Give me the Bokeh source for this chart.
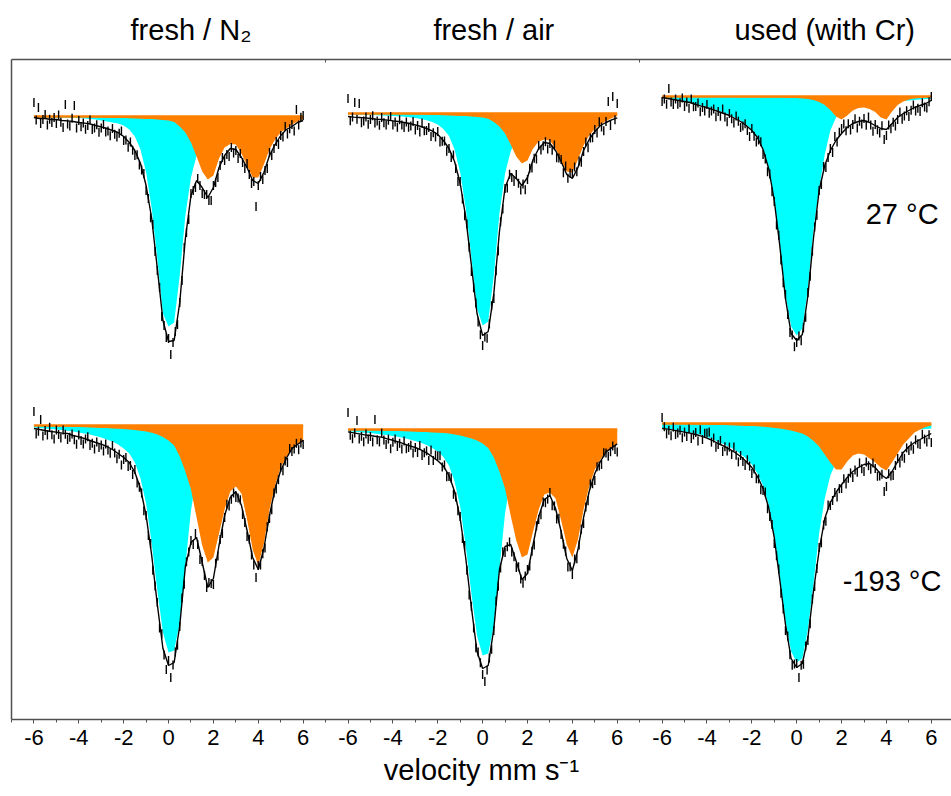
import numpy as np
from bokeh.plotting import figure
from bokeh.models import Range1d, LinearAxis, FixedTicker, Label
from bokeh.embed import file_html
from bokeh.resources import INLINE

# ---------------- data ----------------
# velocity grid (mm/s) of the fitted curves
V_FIT = [-6.0, -5.75, -5.5, -5.25, -5.0, -4.75, -4.5, -4.25, -4.0, -3.75, -3.5, -3.25,
         -3.0, -2.75, -2.5, -2.25, -2.0, -1.75, -1.5, -1.25, -1.0, -0.75, -0.5, -0.25,
         0.0, 0.25, 0.5, 0.75, 1.0, 1.25, 1.5, 1.75, 2.0, 2.25, 2.5, 2.75, 3.0, 3.25,
         3.5, 3.75, 4.0, 4.25, 4.5, 4.75, 5.0, 5.25, 5.5, 5.75, 6.0]
# velocity grid (mm/s) of the measured points
V_DATA = [-6.0, -5.9, -5.8, -5.7, -5.6, -5.5, -5.4, -5.3, -5.2, -5.1,
          -5.0, -4.9, -4.8, -4.7, -4.6, -4.5, -4.4, -4.3, -4.2, -4.1,
          -4.0, -3.9, -3.8, -3.7, -3.6, -3.5, -3.4, -3.3, -3.2, -3.1,
          -3.0, -2.9, -2.8, -2.7, -2.6, -2.5, -2.4, -2.3, -2.2, -2.1,
          -2.0, -1.9, -1.8, -1.7, -1.6, -1.5, -1.4, -1.3, -1.2, -1.1,
          -1.0, -0.9, -0.8, -0.7, -0.6, -0.5, -0.4, -0.3, -0.2, -0.1,
          0.0, 0.1, 0.2, 0.3, 0.4, 0.5, 0.6, 0.7, 0.8, 0.9,
          1.0, 1.1, 1.2, 1.3, 1.4, 1.5, 1.6, 1.7, 1.8, 1.9,
          2.0, 2.1, 2.2, 2.3, 2.4, 2.5, 2.6, 2.7, 2.8, 2.9,
          3.0, 3.1, 3.2, 3.3, 3.4, 3.5, 3.6, 3.7, 3.8, 3.9,
          4.0, 4.1, 4.2, 4.3, 4.4, 4.5, 4.6, 4.7, 4.8, 4.9,
          5.0, 5.1, 5.2, 5.3, 5.4, 5.5, 5.6, 5.7, 5.8, 5.9, 6.0]

COLUMN_TITLES = ["fresh / N\u2082", "fresh / air", "used (with Cr)"]
TITLE_VELOCITY = [1.0, 0.5, 1.25]
ROW_LABELS = ["27 \u00b0C", "-193 \u00b0C"]
PANEL_SHIFT = [0, 14, 28]              # velocity offset of each column on the shared axis
BASELINE = [[100.15, 100.3, 101.15],   # 27 C row: transmission baseline (%)
            [84.7, 84.5, 84.8]]        # -193 C row
TICK_VALUES = [-6, -4, -2, 0, 2, 4, 6]
MINOR_VALUES = [-7, -5, -3, -1, 1, 3, 5, 7]

# absorption (%) -- fresh / N2, 27 C
cyan_n2_27 = [0.03, 0.04, 0.05, 0.05, 0.06, 0.06, 0.07, 0.08, 0.08, 0.1, 0.12, 0.15, 0.2, 0.25,
              0.3, 0.35, 0.45, 0.65, 1.0, 1.65, 2.8, 4.6, 7.1, 9.85, 10.5, 10.3, 7.95, 4.95,
              3.05, 1.95, 1.2, 0.85, 0.6, 0.45, 0.35, 0.28, 0.2, 0.17, 0.15, 0.13, 0.1, 0.09,
              0.08, 0.07, 0.06, 0.06, 0.05, 0.05, 0.05]
orange_n2_27 = [0.0, 0.01, 0.01, 0.02, 0.02, 0.02, 0.03, 0.03, 0.03, 0.04, 0.04, 0.05, 0.05, 0.06,
                0.07, 0.07, 0.08, 0.09, 0.1, 0.11, 0.12, 0.13, 0.15, 0.17, 0.2, 0.27, 0.5, 0.8,
                1.3, 2.0, 2.75, 3.15, 2.95, 2.1, 1.55, 1.37, 1.4, 1.85, 2.45, 3.05, 3.05, 2.4,
                1.65, 1.15, 0.8, 0.6, 0.4, 0.25, 0.12]
fit_n2_27 = [0.05, 0.1, 0.1, 0.15, 0.15, 0.2, 0.22, 0.25, 0.3, 0.33, 0.37, 0.45, 0.52, 0.6, 0.7,
             0.8, 1.0, 1.3, 1.7, 2.35, 3.45, 5.1, 7.6, 10.2, 11.25, 11.2, 9.3, 6.1, 3.95, 3.2,
             3.55, 4.05, 3.55, 2.55, 1.95, 1.6, 1.65, 2.05, 2.55, 3.2, 3.35, 2.8, 1.95, 1.4,
             0.95, 0.65, 0.5, 0.3, 0.2]
data_n2_27 = [-0.7, 0.17, -0.45, 0.35, 0.15, -0.1, 0.42, 0.14, 0.3, 0.05,
              0.35, -0.08, 0.29, 0.55, -0.6, 0.37, 0.48, 0.09, -0.55, 0.58,
              0.2, 0.51, 0.32, 0.64, 0.45, 0.17, 0.65, 0.58, 0.41, 0.79,
              0.57, 0.4, 0.78, 0.72, 0.96, 0.6, 0.89, 1.03, 0.84, 0.72,
              1.2, 1.17, 1.54, 1.28, 1.69, 1.95, 1.91, 2.42, 2.67, 2.85,
              3.7, 4.1, 5.06, 5.4, 6.75, 7.7, 8.55, 10.0, 10.45, 11.05,
              11.1, 11.9, 11.3, 10.75, 10.4, 9.3, 8.2, 6.55, 5.8, 5.15,
              3.85, 3.7, 3.55, 3.1, 3.45, 3.85, 3.9, 3.9, 4.2, 4.2,
              3.45, 3.3, 3.05, 2.45, 2.05, 2.2, 1.9, 2.0, 1.55, 1.82,
              1.7, 2.1, 1.85, 2.3, 2.6, 2.35, 2.9, 3.35, 3.25, 4.5,
              3.45, 3.0, 3.15, 2.7, 2.6, 1.8, 1.95, 1.6, 1.25, 1.4,
              0.95, 1.03, 0.5, 0.87, 0.61, 0.4, 0.73, -0.35, 0.43, 0.04, -0.05]

# fresh / air, 27 C
cyan_air_27 = [0.04, 0.05, 0.06, 0.07, 0.08, 0.09, 0.1, 0.11, 0.12, 0.14, 0.16, 0.19, 0.23, 0.28,
               0.34, 0.42, 0.55, 0.78, 1.12, 1.8, 2.95, 4.75, 7.2, 9.75, 10.6, 10.4, 8.1, 5.0,
               3.0, 1.9, 1.2, 0.85, 0.62, 0.47, 0.37, 0.3, 0.24, 0.2, 0.17, 0.15, 0.13, 0.11,
               0.1, 0.09, 0.08, 0.07, 0.06, 0.06, 0.05]
orange_air_27 = [0.0, 0.01, 0.01, 0.01, 0.02, 0.02, 0.02, 0.03, 0.03, 0.03, 0.04, 0.04, 0.05, 0.05,
                 0.06, 0.07, 0.08, 0.09, 0.1, 0.11, 0.12, 0.13, 0.15, 0.17, 0.2, 0.26, 0.42, 0.65,
                 1.0, 1.55, 2.15, 2.5, 2.35, 1.75, 1.4, 1.3, 1.35, 1.75, 2.35, 2.9, 2.95, 2.3,
                 1.6, 1.1, 0.78, 0.55, 0.38, 0.24, 0.12]
fit_air_27 = [0.15, 0.18, 0.2, 0.22, 0.25, 0.28, 0.3, 0.33, 0.37, 0.4, 0.45, 0.5, 0.57, 0.65, 0.75,
              0.87, 1.05, 1.35, 1.75, 2.4, 3.5, 5.2, 7.6, 10.0, 11.1, 10.9, 9.0, 5.9, 3.7, 3.0,
              3.25, 3.6, 3.2, 2.3, 1.75, 1.45, 1.5, 1.85, 2.4, 3.05, 3.25, 2.7, 1.85, 1.3, 0.9,
              0.6, 0.45, 0.32, 0.22]
data_air_27 = [-0.75, 0.36, 0.17, -0.55, 0.29, -0.5, 0.46, 0.37, 0.18, 0.54,
               0.3, 0.11, 0.47, 0.38, 0.59, 0.2, 0.46, 0.57, 0.34, 0.15,
               0.57, 0.43, 0.69, 0.31, 0.58, 0.7, 0.42, 0.69, 0.62, 0.4,
               0.82, 0.6, 0.93, 0.47, 0.86, 0.85, 0.7, 1.15, 0.96, 1.18,
               0.9, 1.42, 1.39, 1.38, 1.89, 1.75, 2.2, 2.07, 2.75, 3.4,
               3.4, 4.28, 5.11, 5.53, 6.69, 7.9, 8.71, 9.47, 10.42, 11.06,
               11.6, 11.17, 11.24, 10.52, 9.61, 9.25, 7.86, 6.87, 5.41, 4.78,
               3.75, 3.72, 3.04, 3.2, 3.4, 3.05, 3.49, 3.83, 3.52, 3.81,
               3.3, 2.74, 2.73, 2.24, 2.27, 1.6, 1.83, 1.61, 1.41, 1.78,
               1.5, 1.84, 1.58, 2.21, 2.23, 2.3, 2.96, 2.62, 3.24, 2.97,
               3.0, 2.68, 2.91, 2.38, 2.44, 1.9, 1.43, 1.71, 1.22, 1.21,
               0.8, 0.98, 0.41, 0.67, 0.86, 0.4, -0.6, 0.6, -0.85, 0.31, -0.5]

# used (with Cr), 27 C
cyan_cr_27 = [0.03, 0.08, 0.13, 0.18, 0.22, 0.27, 0.37, 0.44, 0.5, 0.6, 0.7, 0.8, 0.9, 1.05, 1.2,
              1.4, 1.65, 2.0, 2.6, 3.55, 5.1, 7.4, 9.9, 11.5, 11.95, 11.6, 9.6, 6.6, 4.6, 2.9,
              1.7, 1.05, 0.75, 0.6, 0.5, 0.45, 0.4, 0.37, 0.35, 0.32, 0.3, 0.27, 0.25, 0.22,
              0.2, 0.18, 0.15, 0.13, 0.12]
orange_cr_27 = [0.0, 0.0, 0.01, 0.01, 0.01, 0.01, 0.02, 0.02, 0.02, 0.02, 0.03, 0.03, 0.03, 0.03,
                0.04, 0.04, 0.04, 0.04, 0.05, 0.05, 0.05, 0.05, 0.06, 0.07, 0.08, 0.1, 0.12, 0.18,
                0.27, 0.42, 0.68, 1.0, 1.15, 0.95, 0.7, 0.58, 0.55, 0.62, 0.78, 1.05, 1.15, 0.75,
                0.42, 0.25, 0.15, 0.1, 0.07, 0.05, 0.04]
fit_cr_27 = [0.05, 0.1, 0.15, 0.2, 0.25, 0.3, 0.4, 0.48, 0.55, 0.65, 0.75, 0.85, 0.95, 1.1, 1.25,
             1.45, 1.7, 2.05, 2.65, 3.6, 5.2, 7.5, 10.1, 11.85, 12.2, 11.9, 9.95, 7.05, 4.7, 3.45,
             2.7, 2.2, 1.85, 1.55, 1.35, 1.25, 1.2, 1.3, 1.45, 1.6, 1.65, 1.35, 1.05, 0.85, 0.7,
             0.55, 0.45, 0.35, 0.2]
data_cr_27 = [0.25, 0.12, 0.39, -0.4, 0.28, 0.4, 0.12, 0.39, 0.31, 0.08,
              0.5, 0.27, 0.59, 0.12, 0.51, 0.5, 0.33, 0.76, 0.55, 0.73,
              0.4, 0.84, 0.73, 0.62, 1.01, 0.75, 0.99, 0.63, 1.02, 1.26,
              0.85, 1.11, 1.32, 0.98, 1.24, 1.55, 1.48, 1.36, 1.7, 2.0,
              1.6, 1.99, 2.28, 2.17, 2.26, 2.9, 3.13, 3.76, 3.87, 4.76,
              5.25, 6.42, 6.94, 8.17, 9.31, 9.9, 10.9, 11.8, 11.92, 12.51,
              12.3, 11.98, 12.21, 11.57, 11.04, 9.8, 8.99, 7.73, 6.53, 5.94,
              4.7, 4.4, 3.5, 3.55, 3.05, 2.6, 2.8, 2.0, 2.28, 1.79,
              1.6, 1.38, 1.71, 1.36, 1.68, 1.4, 1.11, 1.57, 1.24, 1.37,
              1.1, 1.44, 1.03, 1.43, 1.74, 1.4, 1.66, 1.82, 1.46, 2.15,
              1.95, 1.43, 1.61, 1.29, 1.47, 1.15, 0.77, 1.14, 0.97, 0.71,
              1.0, 0.69, 0.43, 0.73, 0.59, 0.75, 0.31, 0.52, 0.57, 0.26, 0.0]

# fresh / N2, -193 C
cyan_n2_m193 = [0.1, 0.13, 0.15, 0.18, 0.2, 0.23, 0.26, 0.3, 0.35, 0.4, 0.45, 0.52, 0.6, 0.7, 0.8,
                0.95, 1.15, 1.4, 1.85, 2.65, 3.9, 5.9, 8.25, 10.35, 11.35, 11.25, 9.85, 7.0, 4.25,
                2.5, 1.65, 1.2, 0.95, 0.78, 0.65, 0.55, 0.45, 0.4, 0.35, 0.3, 0.25, 0.23, 0.2,
                0.18, 0.15, 0.14, 0.12, 0.11, 0.1]
orange_n2_m193 = [0.02, 0.03, 0.03, 0.04, 0.05, 0.05, 0.06, 0.07, 0.08, 0.09, 0.1, 0.11, 0.12, 0.13,
                  0.15, 0.16, 0.18, 0.2, 0.22, 0.26, 0.3, 0.36, 0.45, 0.58, 0.75, 1.0, 1.55, 2.3,
                  3.2, 4.6, 6.0, 6.85, 6.6, 5.4, 4.2, 3.3, 3.05, 3.4, 4.7, 6.2, 7.0, 5.9, 4.2, 3.0,
                  2.1, 1.6, 1.2, 0.95, 0.75]
fit_n2_m193 = [0.15, 0.2, 0.25, 0.3, 0.33, 0.38, 0.4, 0.5, 0.57, 0.65, 0.75, 0.85, 0.93, 1.05, 1.2,
               1.4, 1.6, 1.85, 2.35, 3.15, 4.5, 6.5, 8.95, 11.15, 12.0, 11.85, 10.0, 7.05, 5.85,
               5.6, 6.85, 8.1, 7.65, 6.0, 4.5, 3.6, 3.3, 4.0, 5.25, 6.6, 7.2, 6.15, 4.5, 3.15,
               2.25, 1.65, 1.15, 0.95, 0.75]
data_n2_m193 = [-0.7, 0.42, 0.29, -0.3, 0.53, 0.25, 0.47, 0.09, 0.46, 0.67,
                0.23, 0.45, 0.62, 0.23, 0.44, 0.7, 0.59, 0.43, 0.71, 0.94,
                0.47, 0.75, 0.93, 0.67, 0.56, 1.0, 0.89, 1.18, 0.82, 1.1,
                0.98, 1.28, 0.93, 1.23, 1.39, 1.0, 1.38, 1.66, 1.44, 1.97,
                1.7, 1.6, 2.05, 2.0, 2.45, 2.2, 2.87, 3.09, 3.37, 4.26,
                4.5, 5.5, 5.9, 7.24, 8.02, 8.85, 10.13, 10.41, 11.47, 12.2,
                11.75, 12.6, 11.98, 11.33, 10.99, 10.05, 8.62, 7.94, 6.81, 6.32,
                5.75, 5.95, 5.4, 5.95, 6.7, 6.8, 7.5, 8.1, 7.85, 7.9,
                7.95, 6.89, 6.53, 5.7, 5.4, 4.6, 3.94, 4.03, 3.69, 3.37,
                3.6, 3.63, 3.71, 4.45, 4.85, 5.55, 5.69, 6.48, 6.97, 7.6,
                7.0, 6.98, 6.41, 6.12, 5.06, 4.65, 4.21, 3.37, 3.17, 2.71,
                2.1, 2.26, 1.77, 1.85, 1.15, 1.3, 1.17, 0.89, 1.21, 0.88, 0.95]

# fresh / air, -193 C
cyan_air_m193 = [0.08, 0.11, 0.14, 0.16, 0.18, 0.21, 0.25, 0.28, 0.32, 0.37, 0.42, 0.5, 0.57, 0.66,
                 0.77, 0.92, 1.1, 1.37, 1.8, 2.6, 3.85, 5.85, 8.2, 10.3, 11.3, 11.2, 9.8, 6.95,
                 4.2, 2.45, 1.6, 1.15, 0.92, 0.75, 0.62, 0.52, 0.43, 0.38, 0.33, 0.28, 0.24, 0.21,
                 0.19, 0.17, 0.14, 0.13, 0.11, 0.1, 0.09]
orange_air_m193 = [0.02, 0.02, 0.03, 0.03, 0.04, 0.05, 0.05, 0.06, 0.07, 0.08, 0.09, 0.1, 0.11, 0.12,
                   0.13, 0.15, 0.16, 0.18, 0.2, 0.25, 0.3, 0.37, 0.45, 0.55, 0.7, 0.92, 1.4, 2.1,
                   2.95, 4.3, 5.55, 6.4, 6.25, 5.1, 4.0, 3.25, 3.15, 3.45, 4.55, 5.75, 6.4, 5.5,
                   4.0, 2.85, 2.0, 1.5, 1.12, 0.9, 0.7]
fit_air_m193 = [0.12, 0.17, 0.22, 0.27, 0.3, 0.35, 0.38, 0.47, 0.54, 0.62, 0.72, 0.82, 0.9, 1.02,
                1.17, 1.36, 1.56, 1.82, 2.3, 3.1, 4.45, 6.45, 8.9, 11.1, 11.95, 11.8, 9.95, 7.0,
                5.85, 5.75, 6.6, 7.5, 7.2, 5.75, 4.35, 3.5, 3.3, 3.95, 5.1, 6.45, 7.05, 6.0, 4.4,
                3.1, 2.2, 1.6, 1.12, 0.92, 0.72]
data_air_m193 = [-0.85, 0.29, 0.46, 0.18, -0.45, 0.47, 0.34, 0.61, 0.23, 0.49,
                 0.35, 0.62, -0.5, 0.51, 0.62, 0.18, 0.52, 0.75, 0.48, 0.96,
                 0.64, 0.47, 0.85, 0.69, 0.98, 0.57, 0.96, 0.9, 0.79, 1.17,
                 0.9, 1.15, 0.8, 1.3, 1.16, 1.07, 1.55, 1.02, 1.55, 1.28,
                 1.31, 1.31, 1.87, 1.77, 2.36, 2.35, 2.42, 3.24, 3.37, 4.06,
                 4.35, 5.45, 5.8, 7.04, 8.27, 8.85, 9.93, 10.91, 11.12, 11.66,
                 12.25, 12.6, 12.03, 11.43, 10.99, 10.05, 8.57, 7.84, 6.92, 6.11,
                 6.15, 5.86, 5.62, 6.12, 6.36, 6.9, 6.86, 7.47, 7.69, 7.32,
                 7.0, 6.82, 6.09, 5.77, 4.81, 4.5, 4.26, 3.62, 3.66, 3.48,
                 3.15, 3.81, 3.82, 4.48, 4.44, 5.25, 5.74, 6.08, 6.87, 6.86,
                 7.25, 6.48, 6.46, 5.78, 4.99, 4.7, 3.88, 3.56, 2.72, 2.71,
                 2.55, 1.86, 1.82, 1.75, 1.16, 1.17, 1.34, 1.11, 0.83, 1.0, 1.12]

# used (with Cr), -193 C
cyan_cr_m193 = [0.22, 0.26, 0.3, 0.35, 0.4, 0.45, 0.5, 0.58, 0.67, 0.78, 0.92, 1.03, 1.17, 1.33,
                1.52, 1.75, 2.05, 2.5, 3.1, 4.05, 5.55, 7.7, 9.85, 11.4, 11.95, 11.75, 10.3, 8.0,
                5.5, 3.75, 2.6, 1.95, 1.5, 1.2, 1.0, 0.85, 0.75, 0.67, 0.6, 0.55, 0.5, 0.46, 0.42,
                0.38, 0.35, 0.32, 0.3, 0.27, 0.25]
orange_cr_m193 = [0.02, 0.02, 0.03, 0.03, 0.04, 0.04, 0.05, 0.05, 0.06, 0.07, 0.07, 0.08, 0.09, 0.1,
                  0.11, 0.12, 0.13, 0.14, 0.16, 0.19, 0.22, 0.25, 0.3, 0.35, 0.42, 0.5, 0.65, 0.88,
                  1.15, 1.55, 1.95, 2.3, 2.3, 1.9, 1.6, 1.5, 1.55, 1.75, 1.95, 2.2, 2.35, 1.95, 1.5,
                  1.05, 0.75, 0.45, 0.3, 0.18, 0.1]
fit_cr_m193 = [0.25, 0.28, 0.33, 0.38, 0.43, 0.48, 0.55, 0.63, 0.73, 0.85, 1.0, 1.13, 1.28, 1.45,
               1.65, 1.9, 2.2, 2.65, 3.25, 4.2, 5.7, 7.85, 10.05, 11.75, 12.2, 12.0, 10.7, 8.35,
               6.35, 4.75, 3.95, 3.45, 3.05, 2.7, 2.4, 2.2, 2.05, 2.0, 2.2, 2.55, 2.75, 2.4, 1.9,
               1.45, 1.15, 0.95, 0.8, 0.65, 0.5]
data_cr_m193 = [-0.3, 0.16, 0.52, 0.34, 0.61, 0.18, 0.55, 0.47, 0.34, 0.71,
                0.43, 0.65, 0.27, 0.75, 0.57, 0.45, 0.88, 0.31, 0.8, 0.49,
                0.48, 0.43, 0.93, 0.73, 1.19, 1.05, 0.85, 1.4, 1.16, 1.37,
                1.18, 1.55, 1.17, 1.59, 1.92, 1.6, 1.9, 2.1, 1.81, 2.13,
                2.5, 2.28, 2.76, 2.77, 3.31, 3.35, 3.43, 4.26, 4.65, 5.05,
                6.0, 6.61, 7.27, 8.49, 9.27, 10.35, 10.63, 11.56, 12.09, 12.02,
                12.0, 12.7, 12.09, 12.04, 11.12, 10.85, 10.01, 8.77, 8.15, 7.25,
                6.2, 5.96, 5.07, 4.89, 4.07, 4.1, 3.85, 3.45, 3.67, 3.26,
                3.25, 2.76, 3.02, 2.74, 2.47, 2.7, 2.32, 2.44, 1.97, 2.26,
                2.4, 1.93, 2.11, 2.29, 1.97, 2.25, 2.64, 2.63, 2.54, 3.4,
                3.15, 2.51, 2.62, 2.6, 2.1, 1.75, 1.97, 1.64, 1.74, 1.22,
                1.35, 1.12, 1.29, 0.82, 1.01, 1.05, 0.54, 0.78, 0.92, 0.56, 0.95]

PANELS = [
    (0, 0, cyan_n2_27, orange_n2_27, fit_n2_27, data_n2_27),
    (0, 1, cyan_air_27, orange_air_27, fit_air_27, data_air_27),
    (0, 2, cyan_cr_27, orange_cr_27, fit_cr_27, data_cr_27),
    (1, 0, cyan_n2_m193, orange_n2_m193, fit_n2_m193, data_n2_m193),
    (1, 1, cyan_air_m193, orange_air_m193, fit_air_m193, data_air_m193),
    (1, 2, cyan_cr_m193, orange_cr_m193, fit_cr_m193, data_cr_m193),
]

# ---------------- styles ----------------
FONT = "Liberation Sans"
CYAN = "#00FFFF"
ORANGE = "#FF8000"
FRAME = "#505050"

p = figure(width=951, height=796, output_backend="svg", toolbar_location=None,
           x_range=Range1d(-7, 34.9), y_range=Range1d(70, 103),
           x_axis_location=None, y_axis_location=None,
           min_border_left=11, min_border_right=0, min_border_top=59, min_border_bottom=77)
p.outline_line_color = None
p.grid.visible = False
p.background_fill_color = "white"
p.border_fill_color = "white"

for row, col, cyan, orange, fit, data in PANELS:
    base = BASELINE[row][col]
    sh = PANEL_SHIFT[col]
    xf = [v + sh for v in V_FIT]
    xd = [v + sh for v in V_DATA]
    p.varea(x=xf, y1=[base] * len(xf), y2=[base - c for c in cyan], fill_color=CYAN)
    p.varea(x=xf, y1=[base] * len(xf), y2=[base - o for o in orange], fill_color=ORANGE)
    p.line(xf, [base] * len(xf), line_color=ORANGE, line_width=2.5)
    p.scatter(x=xd, y=[base - d for d in data], marker="dash", angle=np.pi / 2, size=9,
              line_color="black", line_width=1.4)
    p.line(xf, [base - f for f in fit], line_color="black", line_width=1.4)

# bottom axis: -6..6 repeated for the three columns
major = [s + t for s in PANEL_SHIFT for t in TICK_VALUES]
minor = sorted(set(s + t for s in PANEL_SHIFT for t in MINOR_VALUES))
xb = LinearAxis(ticker=FixedTicker(ticks=major, minor_ticks=minor))
xb.major_label_overrides = {s + t: str(t) for s in PANEL_SHIFT for t in TICK_VALUES}
xb.axis_label = "velocity mm s\u207b\u00b9"
xb.axis_label_text_font = FONT
xb.axis_label_text_font_size = "29px"
xb.axis_label_text_font_style = "normal"
xb.axis_label_text_color = "black"
xb.axis_label_standoff = 6
xb.major_label_text_font = FONT
xb.major_label_text_font_size = "22px"
xb.major_label_text_color = "black"
xb.major_label_standoff = 6
xb.axis_line_color = FRAME
xb.axis_line_width = 1.5
xb.major_tick_line_color = FRAME
xb.minor_tick_line_color = FRAME
xb.major_tick_in = 0
xb.major_tick_out = 4
xb.minor_tick_in = 0
xb.minor_tick_out = 3
p.add_layout(xb, "below")

# top border with column titles
title_ticks = [s + t for s, t in zip(PANEL_SHIFT, TITLE_VELOCITY)]
xa = LinearAxis(ticker=FixedTicker(ticks=title_ticks, minor_ticks=[7, 21]))
xa.major_label_overrides = {k: lab for k, lab in zip(title_ticks, COLUMN_TITLES)}
xa.major_label_text_font = FONT
xa.major_label_text_font_size = "29px"
xa.major_label_text_color = "black"
xa.major_label_standoff = 8
xa.major_tick_line_color = None
xa.minor_tick_line_color = FRAME
xa.minor_tick_in = 3
xa.minor_tick_out = 0
xa.axis_line_color = FRAME
xa.axis_line_width = 1.5
p.add_layout(xa, "above")

# left border
yl = LinearAxis(ticker=FixedTicker(ticks=[]))
yl.axis_line_color = FRAME
yl.axis_line_width = 1.5
yl.major_tick_line_color = None
yl.minor_tick_line_color = None
yl.major_label_text_font_size = "0px"
yl.major_label_standoff = 0
p.add_layout(yl, "left")

# temperature labels
p.add_layout(Label(x=PANEL_SHIFT[2] + 4.7, y=BASELINE[0][2] - 5.85, text=ROW_LABELS[0],
                   text_font=FONT, text_font_size="29px", text_align="center",
                   text_baseline="middle", text_color="black"))
p.add_layout(Label(x=PANEL_SHIFT[2] + 4.25, y=BASELINE[1][2] - 7.85, text=ROW_LABELS[1],
                   text_font=FONT, text_font_size="29px", text_align="center",
                   text_baseline="middle", text_color="black"))

open("out.html", "w").write(file_html(p, INLINE))
